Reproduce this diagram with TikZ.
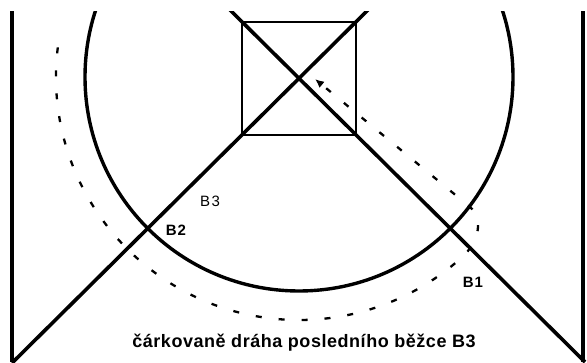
\documentclass[tikz,border=0pt]{standalone}
\usepackage{fontspec}
\setmainfont{Liberation Sans}
\usetikzlibrary{arrows.meta,calc}
\begin{document}
\begin{tikzpicture}[x=1pt,y=1pt,
  wall/.style={line width=4pt},
  track/.style={line width=3.4pt},
  diag/.style={line width=3.6pt},
  sq/.style={line width=1.8pt},
  runner/.style={line width=2.3pt, dash pattern=on 6pt off 17pt},
  lab/.style={font=\fontsize{15}{17}\selectfont\addfontfeature{LetterSpace=10}},
  boldlab/.style={font=\fontsize{15}{17}\selectfont\bfseries\addfontfeature{LetterSpace=6}},
  captext/.style={font=\fontsize{18}{20}\selectfont\bfseries\addfontfeature{LetterSpace=3}}]
\useasboundingbox (0,0) rectangle (587,362);
\fill[white] (0,0) rectangle (587,362);
% named points
\coordinate (C) at (299,285);
\coordinate (sqBL) at (242,227);
\coordinate (sqTR) at (356,340);
\coordinate (l1a) at (12,-1);
\coordinate (l1b) at (380,364);
\coordinate (l2a) at (220,362);
\coordinate (l2b) at (585,0);
\coordinate (dStart) at ($(C)+(173:243)$);
\coordinate (dTurn) at (470,155);
\coordinate (dEnd) at (315,283);
\begin{scope}
\clip (0,0) rectangle (587,350);
\draw[wall] (12,0) -- (12,352);
\draw[wall] (583,0) -- (583,352);
\draw[track] (C) circle[radius=214];
\draw[sq] (sqBL) rectangle (sqTR);
\draw[diag] (l1a) -- (l1b);
\draw[diag] (l2a) -- (l2b);
\draw[runner, -{Latex[length=9pt,width=8pt]}] (dStart) arc[start angle=173, end angle=312, radius=243]
  .. controls +(20,18) and (482,145) .. (dTurn) -- (dEnd);
\end{scope}
\node[lab] (b3) at (210,161) {B3};
\node[boldlab] (b2) at (176,132) {B2};
\node[boldlab] (b1) at (473,80) {B1};
\node[captext] (caption) at (304,19) {čárkovaně dráha posledního běžce B3};
\end{tikzpicture}
\end{document}
